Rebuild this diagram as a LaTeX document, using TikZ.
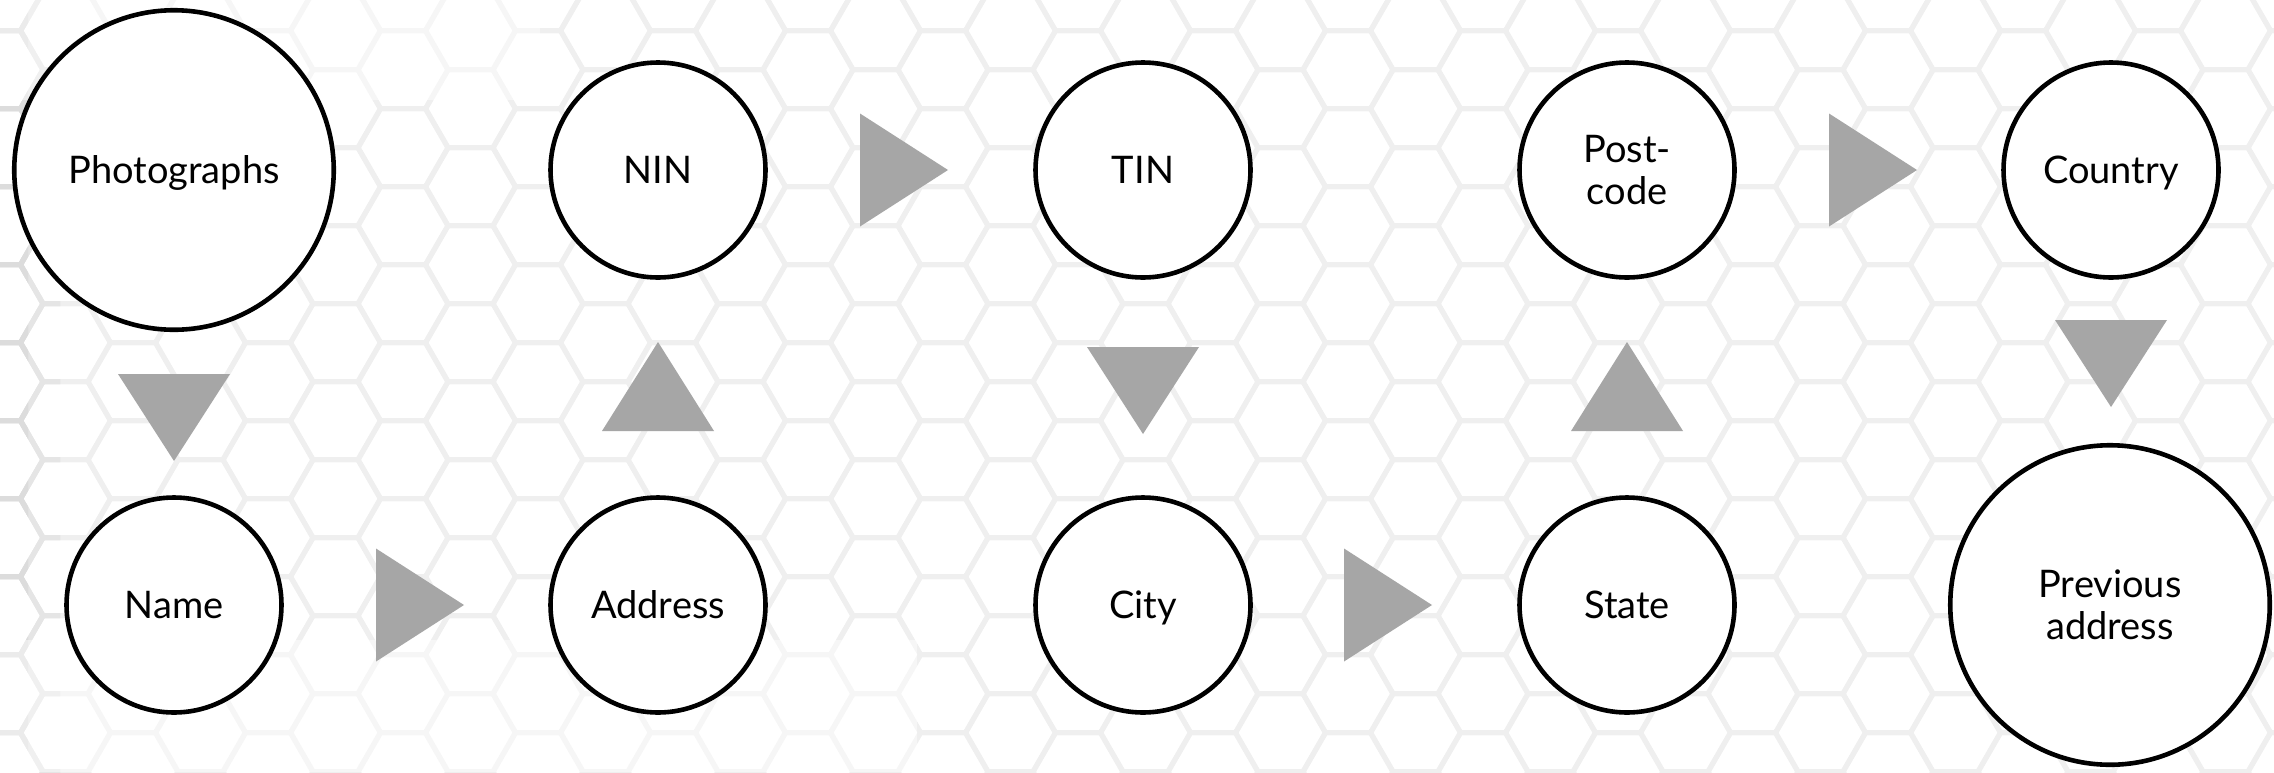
\documentclass[tikz,border=0pt]{standalone}
\usepackage{fontspec}
\setmainfont{Lato}
\usetikzlibrary{calc}
\definecolor{hexc}{RGB}{239,239,239}
\definecolor{hexdark}{RGB}{220,220,220}
\definecolor{hexmid}{RGB}{229,229,229}
\definecolor{tric}{RGB}{166,166,166}
\newcommand\twolines[2]{\vtop{\baselineskip=20.8pt\hbox to 0pt{\hss#1\hss}\hbox to 0pt{\hss#2\hss}}}
\newcommand\hexgrid[1]{%
  \foreach \k in {-15,...,22}{%
    \pgfmathsetmacro\hx{943+67.5*\k}%
    \pgfmathsetmacro\off{mod(459.7+39*\k+2340,78)}%
    \foreach \m in {-1,...,10}{%
      \pgfmathsetmacro\hy{\off+78*\m}%
      \draw[#1] (\hx-45,\hy) -- (\hx-22.5,\hy-39) -- (\hx+22.5,\hy-39) -- (\hx+45,\hy) -- (\hx+22.5,\hy+39) -- (\hx-22.5,\hy+39) -- cycle;
    }%
  }%
}
\begin{document}
\begin{tikzpicture}[x=0.5pt,y=-0.5pt,
  hexline/.style={draw=hexc,line width=2.5pt,line join=round},
  circ/.style={circle,draw=black,fill=white,line width=2.3pt,inner sep=0pt,
    font=\fontsize{19}{20.8}\selectfont,text height=13.6pt,text depth=0pt},
  smallc/.style={circ,minimum size=107.5pt},
  bigc/.style={circ,minimum size=159.75pt},
  twol/.style={text depth=20.8pt},
  tri/.style={fill=tric}]
\useasboundingbox (0,0) rectangle (2274,772);
\fill[white] (0,0) rectangle (2274,772);
% honeycomb background
\begin{scope}
  \clip (0,0) rectangle (2274,772);
  \hexgrid{hexline}
\end{scope}
\begin{scope}
  \clip (0,0) rectangle (60,772);
  \hexgrid{hexline,draw=hexmid}
\end{scope}
\begin{scope}
  \clip (0,0) rectangle (28,772);
  \hexgrid{hexline,draw=hexdark}
\end{scope}
\fill[white,opacity=0.45] (0,640) rectangle (917,772);
\fill[white,opacity=0.45] (0,0) rectangle (540,100);
% nodes
\node[bigc]   (photo)   at (174,170)  {Photographs};
\node[smallc] (nin)     at (658,170)  {NIN};
\node[smallc] (tin)     at (1143,170) {TIN};
\node[smallc,twol] (post) at (1627,170) {\twolines{Post-}{code}};
\node[smallc] (country) at (2111,170) {Country};
\node[smallc] (name)    at (174,605)  {Name};
\node[smallc] (address) at (658,605)  {Address};
\node[smallc] (city)    at (1143,605) {City};
\node[smallc] (state)   at (1627,605) {State};
\node[bigc,twol] (prev) at (2110,605) {\twolines{Previous}{address}};
% triangles (flow markers)
\fill[tri] (174-56,374) -- ++(112,0) -- ++(-56,87) -- cycle;    % photo -> name
\fill[tri] (376,605-56.5) -- ++(0,113) -- ++(88,-56.5) -- cycle; % name -> address
\fill[tri] (658-56,431) -- ++(112,0) -- ++(-56,-89) -- cycle;   % address -> nin
\fill[tri] (860,170-56.5) -- ++(0,113) -- ++(88,-56.5) -- cycle; % nin -> tin
\fill[tri] (1143-56,347) -- ++(112,0) -- ++(-56,87) -- cycle;   % tin -> city
\fill[tri] (1344,605-56.5) -- ++(0,113) -- ++(88,-56.5) -- cycle; % city -> state
\fill[tri] (1627-56,431) -- ++(112,0) -- ++(-56,-89) -- cycle;  % state -> post
\fill[tri] (1829,170-56.5) -- ++(0,113) -- ++(88,-56.5) -- cycle; % post -> country
\fill[tri] (2111-56,320) -- ++(112,0) -- ++(-56,87) -- cycle;   % country -> prev
\end{tikzpicture}
\end{document}
